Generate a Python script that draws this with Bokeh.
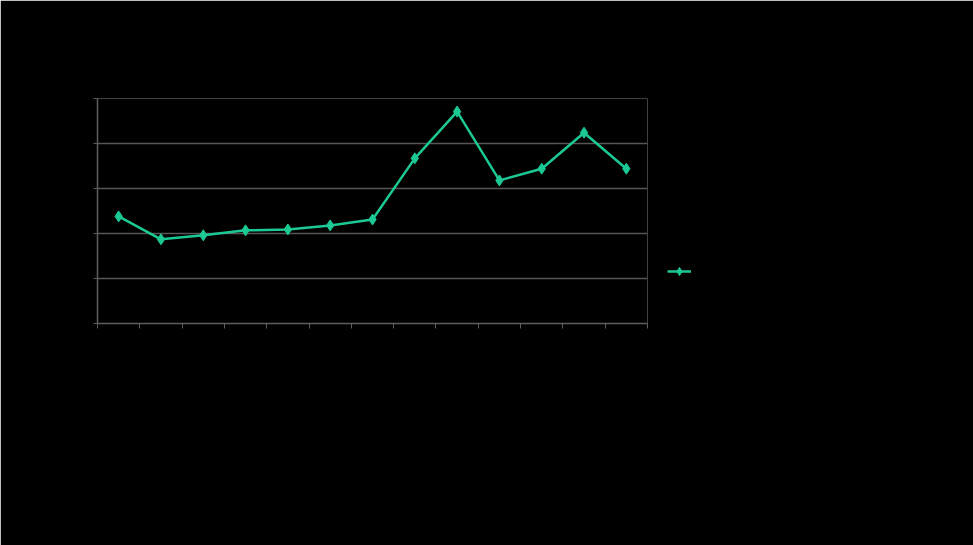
from bokeh.plotting import figure
from bokeh.models import Legend, LegendItem, FixedTicker, Range1d
from bokeh.embed import file_html
from bokeh.resources import INLINE

categories = ["1", "2", "3", "4", "5", "6", "7", "8", "9", "10", "11", "12", "13"]
values = [23.8, 18.7, 19.6, 20.7, 20.9, 21.8, 23.1, 36.7, 47.1, 31.8, 34.4, 42.4, 34.4]
series_name = "Series 1"
y_ticks = [0, 10, 20, 30, 40, 50]

GREEN = "#1cc894"
BG = "#000000"

xs = [i + 0.5 for i in range(len(categories))]

p = figure(frame_width=550, frame_height=225, output_backend="svg", toolbar_location=None,
           x_range=Range1d(0, len(categories)), y_range=Range1d(0, 50),
           min_border_left=97, min_border_top=98, min_border_right=326, min_border_bottom=222)
p.background_fill_color = BG
p.border_fill_color = BG
p.outline_line_color = None

r_line = p.line(xs, values, line_color=GREEN, line_width=2.5)
r_pts = p.scatter(xs, values, marker="diamond", size=11, fill_color=GREEN, line_color=GREEN)

p.xaxis.ticker = FixedTicker(ticks=list(range(len(categories) + 1)))
p.xaxis.major_label_overrides = {i: "" for i in range(len(categories) + 1)}
p.xaxis.major_label_text_color = BG
p.xaxis.axis_line_color = "#5e5e5e"
p.xaxis.axis_line_width = 1.5
p.xaxis.major_tick_line_color = "#5e5e5e"
p.xaxis.major_tick_out = 5
p.xaxis.major_tick_in = 0
p.xaxis.minor_tick_line_color = None

p.yaxis.ticker = FixedTicker(ticks=y_ticks)
p.yaxis.major_label_text_color = BG
p.yaxis.axis_line_color = "#5e5e5e"
p.yaxis.axis_line_width = 1.5
p.yaxis.major_tick_line_color = "#5e5e5e"
p.yaxis.major_tick_out = 4
p.yaxis.major_tick_in = 0
p.yaxis.minor_tick_line_color = None

p.xgrid.grid_line_color = None
p.ygrid.ticker = FixedTicker(ticks=y_ticks)
p.ygrid.grid_line_color = "#565656"
p.ygrid.grid_line_width = 1.5

legend = Legend(items=[LegendItem(label=series_name, renderers=[r_line, r_pts])],
                location=(20, 42), orientation="vertical")
legend.background_fill_alpha = 0
legend.border_line_color = None
legend.label_text_color = BG
legend.padding = 0
legend.margin = 0
legend.label_standoff = 8
legend.glyph_width = 24
legend.glyph_height = 20
legend.label_text_font_size = "12px"
p.add_layout(legend, "right")

open("out.html", "w").write(file_html(p, INLINE))
